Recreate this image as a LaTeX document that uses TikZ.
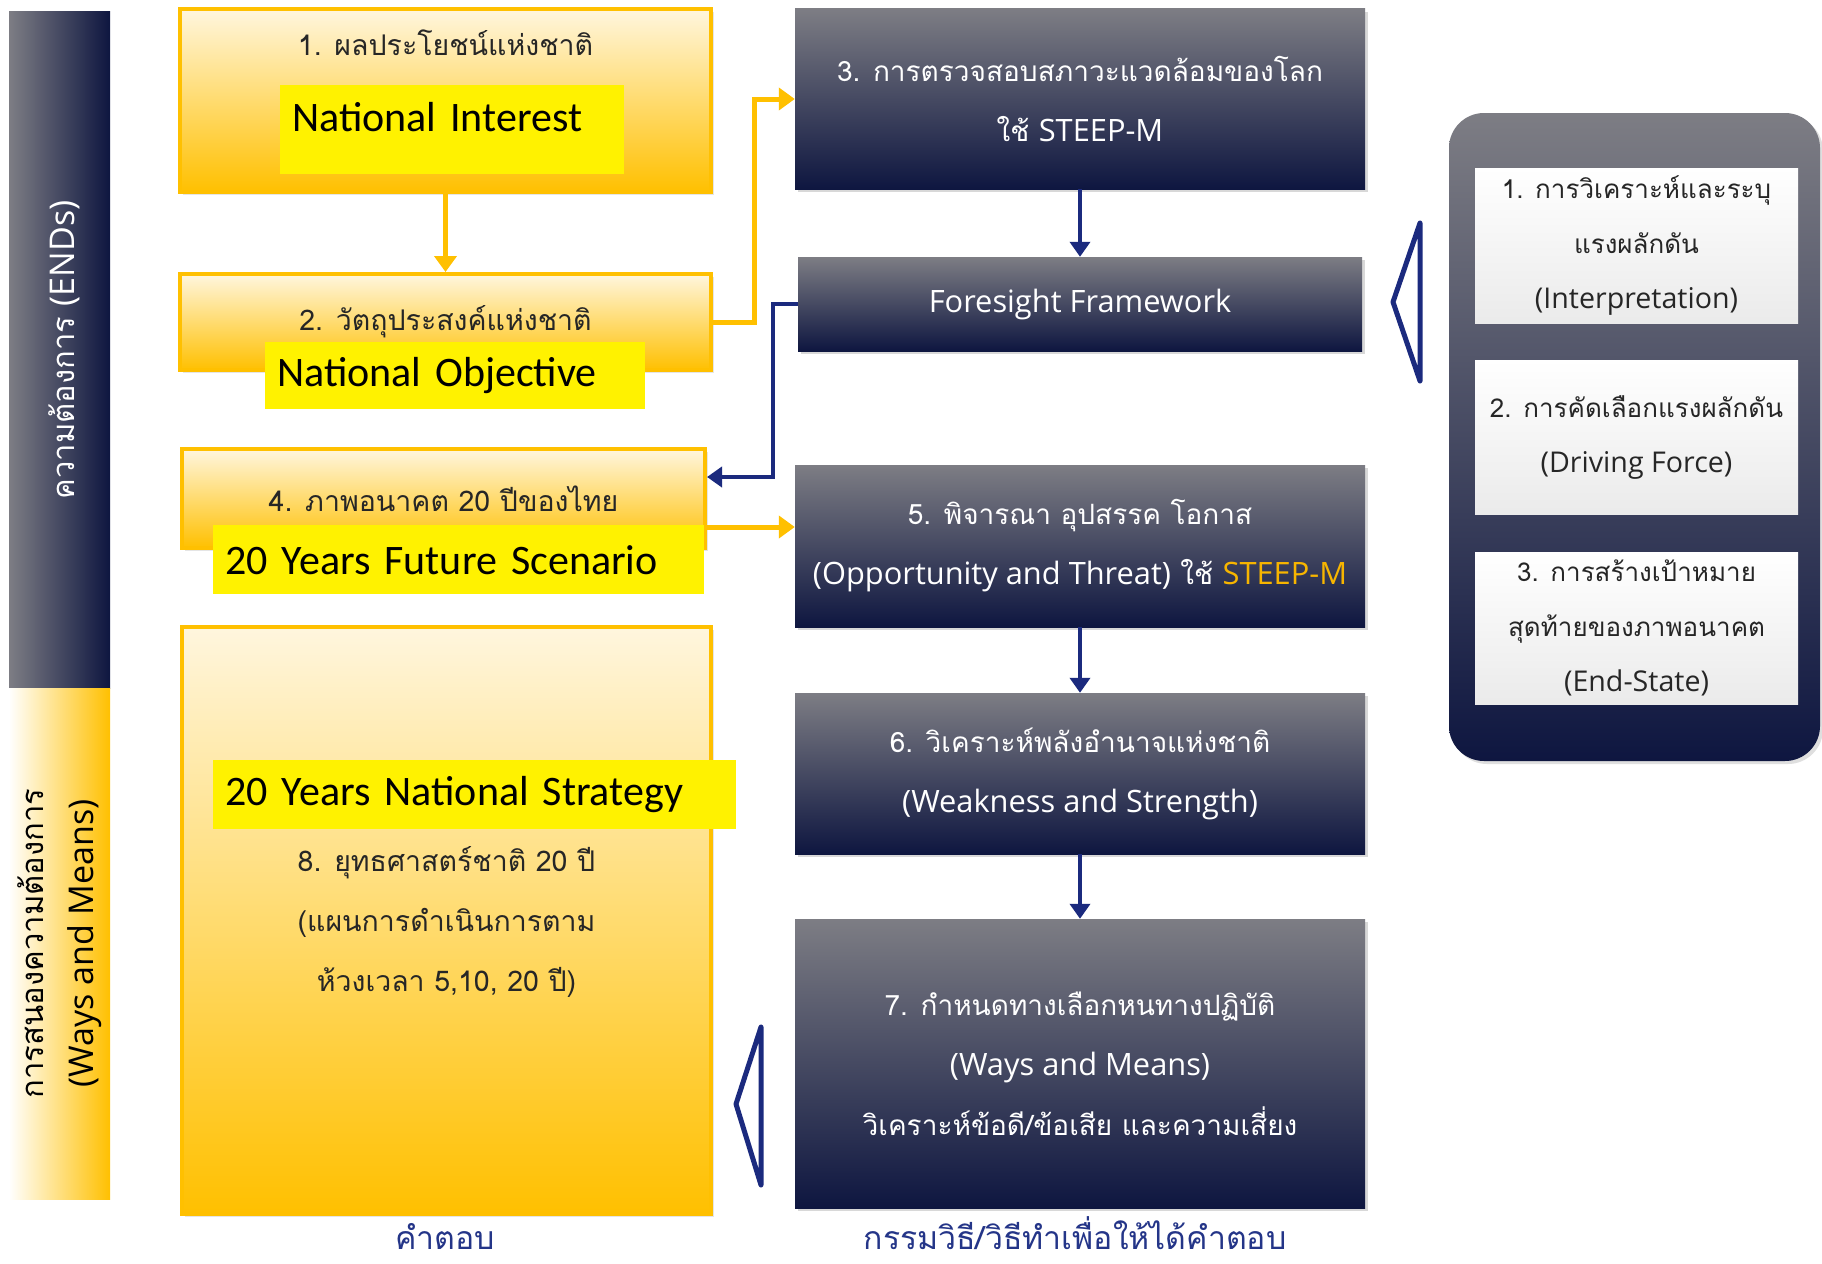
\documentclass[tikz,border=0pt]{standalone}
\usepackage{fontspec}
\setmainfont[Script=Thai]{Loma}
\newfontfamily\latfont[Scale=1.1]{Open Sans}
\newfontfamily\hlfont{Carlito}
\usetikzlibrary{arrows.meta,shadows}

\definecolor{gold}{HTML}{FFC000}
\definecolor{cream}{HTML}{FFF6DE}
\definecolor{slate}{HTML}{7D7D84}
\definecolor{ink}{HTML}{0E1640}
\definecolor{linkblue}{HTML}{1B2A7E}
\definecolor{captblue}{HTML}{243588}
\definecolor{steep}{HTML}{F7B500}

\tikzset{
  ybox/.style={draw=gold, line width=4pt, top color=cream, bottom color=gold, inner sep=0pt,
    drop shadow={opacity=0.2, shadow xshift=3pt, shadow yshift=-3pt}},
  dbox/.style={top color=slate, bottom color=ink, text=white, align=center, inner sep=0pt,
    font=\fontsize{28}{60}\selectfont,
    drop shadow={opacity=0.3, shadow xshift=3pt, shadow yshift=-3pt}},
  wbox/.style={top color=white, bottom color=black!8, text=black!85, align=center, inner sep=0pt,
    font=\fontsize{26}{55}\selectfont},
  hlbox/.style={fill=yellow, anchor=north west, inner xsep=12pt, inner ysep=0pt, align=left,
    font=\hlfont\fontsize{42}{46}\selectfont},
  ytext/.style={font=\fontsize{28.5}{60}\selectfont, align=center, text=black!85},
  yarrow/.style={gold, line width=5pt, -{Triangle[length=16pt,width=22pt]}},
  narrow/.style={linkblue, line width=4.5pt, -{Triangle[length=15pt,width=20pt]}},
  tri/.style={linkblue, line width=5pt, line join=round},
  caption/.style={text=captblue, inner sep=0pt, font=\fontsize{32}{36}\selectfont},
}

\begin{document}
\begin{tikzpicture}[x=1pt,y=-1pt]

\useasboundingbox (0,0) rectangle (1822,1263);
\fill[white] (0,0) rectangle (1822,1263);

\node (ends) at (59.5,350) [minimum width=101, minimum height=676, left color=slate, right color=ink, inner sep=0pt] {};
\node (endstxt) at ([xshift=5pt]ends.center) [rotate=90, text=white, font=\fontsize{31}{34}\selectfont] {ความต้องการ {\latfont (ENDs)}};

\node (ways) at (59.5,943.5) [minimum width=101, minimum height=511, left color=white, right color=gold, inner sep=0pt] {};
\node (waystxt) at (ways.center) [rotate=90, align=center, font=\fontsize{31}{50}\selectfont] {การสนองความต้องการ\\{\latfont (Ways and Means)}};

\node (b1) at (445.5,100.5) [ybox, minimum width=531, minimum height=183] {};
\node (b1txt) at (445.5,43) [ytext] {1. ผลประโยชน์แห่งชาติ};
\node (hi1) at (280,85) [hlbox, text width=320, minimum height=89, text height=30pt, text depth=26pt] {National Interest};

\node (b2) at (445.5,322) [ybox, minimum width=531, minimum height=96] {};
\node (b2txt) at (b2.center) [ytext] {2. วัตถุประสงค์แห่งชาติ};
\node (hi2) at (265,342) [hlbox, text width=356, minimum height=67] {National Objective};

\node (b4) at (443.5,498.5) [ybox, minimum width=523, minimum height=99] {};
\node (b4txt) at (b4.center) [ytext] {4. ภาพอนาคต 20 ปีของไทย};
\node (hi3) at (213,525) [hlbox, text width=467, minimum height=69] {20 Years Future Scenario};

\node (b8) at (446.5,920.5) [ybox, minimum width=529, minimum height=587] {};
\node (b8txt) at (446.5,922) [ytext] {8. ยุทธศาสตร์ชาติ 20 ปี\\(แผนการดำเนินการตาม\\ห้วงเวลา 5,10, 20 ปี)};
\node (hi4) at (213,760) [hlbox, text width=499, minimum height=69] {20 Years National Strategy};

\node (b3) at (1080,99) [dbox, minimum width=570, minimum height=180] {3. การตรวจสอบสภาวะแวดล้อมของโลก\\ใช้ {\latfont STEEP-M}};
\node (ff) at (1080,304) [dbox, minimum width=564, minimum height=94] {\latfont Foresight Framework};
\node (b5) at (1080,546) [dbox, minimum width=570, minimum height=162] {5. พิจารณา อุปสรรค โอกาส\\{\latfont (Opportunity and Threat)} ใช้ {\latfont\color{steep}STEEP-M}};
\node (b6) at (1080,773.5) [dbox, minimum width=570, minimum height=161] {6. วิเคราะห์พลังอำนาจแห่งชาติ\\{\latfont (Weakness and Strength)}};
\node (b7) at (1080,1063.5) [dbox, minimum width=570, minimum height=289] {7. กำหนดทางเลือกหนทางปฏิบัติ\\{\latfont (Ways and Means)}\\วิเคราะห์ข้อดี/ข้อเสีย และความเสี่ยง};

\node (fw) at (1634.5,437) [minimum width=371, minimum height=648, rounded corners=35pt, top color=slate, bottom color=ink,
  drop shadow={opacity=0.25, shadow xshift=3pt, shadow yshift=-3pt}] {};
\node (fw1) at (1636.5,245.5) [wbox, minimum width=323, minimum height=155] {1. การวิเคราะห์และระบุ\\แรงผลักดัน\\{\latfont (Interpretation)}};
\node (fw2) at (1636.5,437) [wbox, minimum width=323, minimum height=154] {2. การคัดเลือกแรงผลักดัน\\{\latfont (Driving Force)}};
\node (fw3) at (1636.5,628) [wbox, minimum width=323, minimum height=152] {3. การสร้างเป้าหมาย\\สุดท้ายของภาพอนาคต\\{\latfont (End-State)}};

\draw[tri] (1420,223) -- (1393,302) -- (1420,381) -- cycle;
\draw[tri] (761,1027) -- (736,1104) -- (761,1185) -- cycle;

\draw[yarrow] (b1.south) -- (b2.north);
\draw[yarrow] (b2.east) -- ++(41,0) |- (b3.west);
\coordinate (o4) at ([yshift=-28.5pt]b4.east);
\coordinate (i4) at ([yshift=21.5pt]b4.east);
\draw[yarrow] (o4) -- (o4 -| b5.west);
\draw[narrow] (ff.west) -- ++(-25,0) |- (i4);

\draw[narrow] (b3.south) -- (ff.north);
\draw[narrow] (b5.south) -- (b6.north);
\draw[narrow] (b6.south) -- (b7.north);

\node (ans) at (445,1236) [caption] {คำตอบ};
\node (meth) at (1075,1233) [caption] {กรรมวิธี/วิธีทำเพื่อให้ได้คำตอบ};

\end{tikzpicture}
\end{document}
